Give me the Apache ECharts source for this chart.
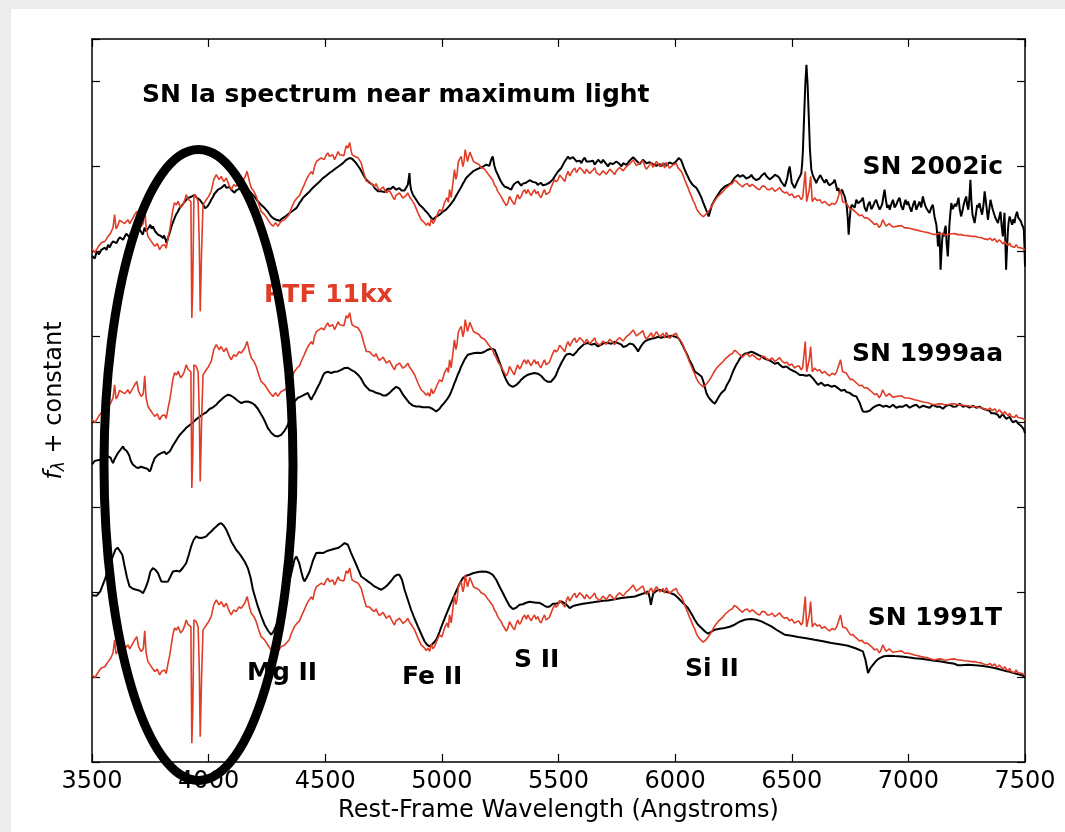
<!DOCTYPE html>
<html>
<head>
<meta charset="utf-8">
<script src="https://cdn.jsdelivr.net/npm/echarts@6/dist/echarts.min.js"></script>
<style>
  html, body { margin: 0; padding: 0; background: #ececec; }
  #panel { position: absolute; left: 11px; top: 9px; width: 1054px; height: 823px; background: #ffffff; }
  #chart { position: absolute; left: 0; top: 0; width: 1065px; height: 832px; }
</style>
</head>
<body>
<div id="panel"></div>
<div id="chart"></div>
<script>
// Normalised spectra: [rest-frame wavelength (Angstrom), f_lambda]
const ptf11kx = [[3500,1.03],[3504,1.044],[3512,0.99],[3520,1.012],[3530,1.07],[3540,1.106],[3555,1.12],[3569,1.18],[3580,1.22],[3590,1.281],[3597,1.435],[3603,1.27],[3610,1.298],[3618,1.37],[3626,1.356],[3640,1.33],[3654,1.376],[3662,1.33],[3670,1.353],[3683,1.435],[3692,1.474],[3700,1.353],[3711,1.298],[3720,1.33],[3726,1.541],[3732,1.282],[3740,1.18],[3748,1.2],[3755,1.118],[3762,1.09],[3769,1.063],[3780,1.094],[3790,1.024],[3800,1.071],[3811,1.082],[3818,1.04],[3826,1.161],[3833,1.25],[3840,1.376],[3847,1.5],[3854,1.576],[3862,1.55],[3869,1.592],[3880,1.517],[3890,1.553],[3897,1.6],[3904,1.67],[3911,1.62],[3918,1.611],[3924,1.588],[3928,0.221],[3932,0.6],[3937,1.67],[3947,1.65],[3955,1.588],[3960,1.1],[3964,0.298],[3970,1.024],[3976,1.553],[3983,1.58],[3990,1.611],[4000,1.65],[4011,1.709],[4022,1.847],[4033,1.906],[4045,1.847],[4054,1.885],[4065,1.823],[4076,1.867],[4088,1.776],[4097,1.729],[4108,1.788],[4118,1.768],[4130,1.823],[4140,1.808],[4155,1.87],[4165,1.944],[4175,1.823],[4183,1.749],[4195,1.706],[4204,1.65],[4215,1.553],[4225,1.474],[4240,1.435],[4254,1.376],[4265,1.329],[4276,1.298],[4287,1.341],[4297,1.298],[4310,1.353],[4326,1.376],[4345,1.435],[4356,1.52],[4368,1.592],[4380,1.635],[4390,1.66],[4397,1.709],[4410,1.788],[4418,1.84],[4426,1.885],[4440,1.941],[4447,1.91],[4454,2.003],[4462,2.06],[4470,2.047],[4483,2.102],[4495,2.082],[4503,2.13],[4511,2.161],[4518,2.12],[4525,2.105],[4532,2.14],[4540,2.082],[4548,2.13],[4555,2.176],[4562,2.14],[4568,2.161],[4580,2.129],[4590,2.246],[4597,2.219],[4605,2.282],[4610,2.2],[4615,2.141],[4626,2.121],[4640,2.105],[4654,2.043],[4665,1.929],[4676,1.827],[4683,1.85],[4690,1.823],[4700,1.79],[4711,1.768],[4718,1.8],[4725,1.753],[4732,1.72],[4740,1.709],[4748,1.76],[4755,1.753],[4762,1.69],[4768,1.67],[4775,1.72],[4782,1.706],[4790,1.64],[4797,1.611],[4803,1.66],[4810,1.647],[4818,1.69],[4826,1.67],[4833,1.63],[4840,1.611],[4847,1.66],[4854,1.69],[4862,1.64],[4870,1.611],[4883,1.553],[4897,1.459],[4911,1.376],[4918,1.36],[4925,1.341],[4933,1.31],[4940,1.338],[4948,1.3],[4955,1.388],[4962,1.33],[4968,1.356],[4980,1.435],[4990,1.494],[5000,1.471],[5011,1.573],[5022,1.635],[5028,1.58],[5033,1.729],[5040,1.635],[5047,1.8],[5054,1.964],[5060,1.85],[5065,1.906],[5070,2.05],[5075,2.082],[5083,2.121],[5090,2.0],[5095,2.058],[5100,2.2],[5104,2.179],[5110,2.06],[5115,2.082],[5120,2.17],[5126,2.161],[5136,2.058],[5147,2.043],[5155,2.06],[5160,2.023],[5168,1.99],[5176,2.003],[5183,1.97],[5190,1.964],[5200,1.906],[5211,1.867],[5218,1.84],[5225,1.788],[5232,1.76],[5240,1.706],[5247,1.69],[5254,1.65],[5261,1.61],[5268,1.588],[5276,1.54],[5283,1.573],[5290,1.65],[5297,1.635],[5304,1.58],[5311,1.553],[5318,1.62],[5325,1.67],[5333,1.62],[5340,1.65],[5347,1.7],[5355,1.729],[5362,1.68],[5369,1.729],[5376,1.69],[5383,1.659],[5390,1.7],[5397,1.729],[5404,1.68],[5411,1.709],[5418,1.66],[5425,1.635],[5433,1.69],[5440,1.729],[5447,1.67],[5454,1.65],[5461,1.7],[5468,1.753],[5475,1.8],[5483,1.846],[5490,1.82],[5498,1.846],[5505,1.9],[5512,1.885],[5520,1.85],[5527,1.823],[5534,1.9],[5541,1.944],[5548,1.89],[5555,1.906],[5562,1.96],[5570,1.984],[5577,1.93],[5584,1.941],[5591,1.99],[5598,2.011],[5605,1.95],[5612,1.917],[5620,1.97],[5627,1.964],[5634,1.92],[5641,1.906],[5648,1.96],[5655,1.988],[5662,1.93],[5670,1.944],[5677,1.9],[5684,1.894],[5691,1.95],[5698,1.964],[5705,1.91],[5712,1.925],[5720,1.97],[5727,1.988],[5734,1.93],[5741,1.906],[5748,1.95],[5755,1.944],[5762,1.99],[5770,2.011],[5777,1.95],[5784,1.964],[5791,2.0],[5798,1.984],[5805,2.03],[5812,2.035],[5820,2.08],[5827,2.062],[5834,2.01],[5841,1.988],[5848,2.04],[5855,2.023],[5862,2.07],[5870,2.003],[5877,1.97],[5884,1.964],[5891,2.02],[5898,2.047],[5905,1.99],[5912,2.003],[5920,2.06],[5927,2.058],[5934,2.0],[5941,1.988],[5948,2.04],[5955,1.984],[5962,2.05],[5969,2.035],[5976,1.98],[5984,1.964],[5991,2.02],[5998,2.003],[6005,2.04],[6012,1.988],[6020,1.97],[6027,1.941],[6034,1.9],[6041,1.846],[6048,1.8],[6055,1.753],[6062,1.7],[6070,1.65],[6077,1.6],[6084,1.565],[6091,1.51],[6098,1.474],[6105,1.45],[6113,1.435],[6120,1.41],[6127,1.415],[6133,1.44],[6140,1.447],[6148,1.494],[6156,1.53],[6165,1.576],[6175,1.62],[6184,1.65],[6195,1.68],[6205,1.706],[6215,1.74],[6227,1.768],[6236,1.79],[6245,1.8],[6254,1.84],[6263,1.827],[6272,1.8],[6280,1.8],[6289,1.76],[6298,1.788],[6309,1.8],[6320,1.764],[6330,1.79],[6341,1.768],[6352,1.74],[6362,1.729],[6373,1.77],[6384,1.768],[6395,1.73],[6405,1.729],[6416,1.75],[6427,1.709],[6438,1.73],[6448,1.753],[6459,1.71],[6470,1.69],[6480,1.7],[6490,1.659],[6500,1.68],[6512,1.632],[6521,1.65],[6530,1.659],[6541,1.611],[6547,1.64],[6552,1.635],[6558,1.944],[6564,1.588],[6569,1.573],[6575,1.729],[6581,1.885],[6588,1.588],[6598,1.632],[6609,1.6],[6620,1.611],[6630,1.57],[6641,1.592],[6652,1.56],[6662,1.541],[6673,1.57],[6684,1.553],[6693,1.59],[6700,1.588],[6709,1.729],[6718,1.588],[6726,1.6],[6734,1.573],[6743,1.53],[6752,1.494],[6761,1.5],[6770,1.474],[6780,1.45],[6790,1.423],[6801,1.43],[6812,1.396],[6822,1.4],[6833,1.376],[6844,1.35],[6855,1.318],[6865,1.33],[6875,1.282],[6882,1.31],[6890,1.376],[6898,1.396],[6904,1.3],[6910,1.294],[6918,1.33],[6925,1.318],[6933,1.29],[6941,1.279],[6955,1.3],[6970,1.306],[6984,1.28],[6998,1.279],[7013,1.27],[7027,1.259],[7041,1.25],[7055,1.239],[7070,1.23],[7084,1.224],[7098,1.21],[7112,1.2],[7126,1.21],[7140,1.212],[7155,1.2],[7169,1.2],[7184,1.21],[7198,1.212],[7212,1.2],[7226,1.2],[7240,1.19],[7255,1.188],[7270,1.18],[7284,1.18],[7298,1.17],[7312,1.165],[7326,1.15],[7341,1.141],[7350,1.16],[7360,1.13],[7370,1.153],[7380,1.11],[7390,1.14],[7398,1.121],[7406,1.09],[7413,1.12],[7420,1.094],[7428,1.07],[7434,1.1],[7441,1.063],[7448,1.08],[7455,1.05],[7462,1.082],[7470,1.05],[7477,1.06],[7484,1.044],[7492,1.03],[7500,1.024]];

const sn2002ic = [[3500,0.95],[3504,0.964],[3512,0.92],[3520,0.999],[3530,0.97],[3540,1.022],[3548,1.0],[3555,1.046],[3562,1.02],[3569,1.081],[3576,1.05],[3583,1.093],[3590,1.12],[3597,1.14],[3605,1.1],[3612,1.14],[3619,1.17],[3626,1.179],[3633,1.14],[3640,1.163],[3647,1.21],[3654,1.199],[3661,1.17],[3668,1.234],[3676,1.21],[3683,1.257],[3690,1.23],[3697,1.222],[3704,1.26],[3711,1.237],[3718,1.2],[3725,1.281],[3732,1.24],[3740,1.257],[3745,1.29],[3750,1.316],[3756,1.27],[3761,1.296],[3767,1.26],[3772,1.234],[3778,1.25],[3783,1.199],[3788,1.22],[3794,1.187],[3799,1.21],[3804,1.16],[3808,1.19],[3812,1.187],[3816,1.14],[3819,1.101],[3823,1.13],[3826,1.163],[3833,1.219],[3843,1.316],[3854,1.395],[3861,1.44],[3868,1.469],[3875,1.51],[3883,1.531],[3890,1.56],[3897,1.587],[3904,1.61],[3911,1.63],[3918,1.62],[3925,1.645],[3932,1.66],[3940,1.669],[3947,1.64],[3955,1.634],[3962,1.61],[3969,1.59],[3975,1.56],[3980,1.54],[3985,1.51],[3990,1.493],[3995,1.53],[4000,1.551],[4006,1.58],[4011,1.61],[4018,1.64],[4025,1.681],[4032,1.7],[4040,1.728],[4047,1.71],[4055,1.751],[4062,1.77],[4069,1.786],[4076,1.75],[4083,1.74],[4090,1.76],[4097,1.728],[4104,1.71],[4111,1.692],[4118,1.72],[4126,1.708],[4133,1.74],[4140,1.763],[4147,1.73],[4154,1.748],[4161,1.76],[4168,1.728],[4176,1.71],[4183,1.689],[4190,1.67],[4197,1.645],[4204,1.62],[4211,1.59],[4218,1.57],[4225,1.551],[4232,1.53],[4240,1.512],[4247,1.49],[4254,1.469],[4261,1.44],[4268,1.414],[4275,1.4],[4280,1.387],[4290,1.375],[4297,1.36],[4304,1.363],[4311,1.38],[4318,1.395],[4325,1.4],[4333,1.422],[4340,1.44],[4347,1.454],[4354,1.47],[4361,1.481],[4368,1.5],[4376,1.512],[4383,1.54],[4390,1.575],[4397,1.6],[4404,1.63],[4411,1.65],[4418,1.669],[4425,1.69],[4433,1.708],[4440,1.73],[4447,1.751],[4454,1.76],[4461,1.786],[4468,1.8],[4475,1.822],[4482,1.84],[4490,1.865],[4497,1.87],[4504,1.892],[4511,1.9],[4518,1.924],[4525,1.93],[4532,1.951],[4540,1.96],[4547,1.983],[4554,1.99],[4561,2.01],[4568,2.02],[4576,2.041],[4583,2.06],[4590,2.08],[4597,2.09],[4604,2.1],[4610,2.11],[4615,2.092],[4620,2.08],[4626,2.06],[4632,2.04],[4637,2.022],[4642,2.0],[4647,1.983],[4654,1.95],[4661,1.916],[4668,1.88],[4676,1.845],[4683,1.83],[4690,1.81],[4697,1.8],[4704,1.786],[4711,1.75],[4718,1.728],[4726,1.71],[4733,1.689],[4740,1.71],[4747,1.728],[4754,1.7],[4761,1.708],[4768,1.74],[4776,1.751],[4783,1.74],[4790,1.766],[4797,1.75],[4804,1.728],[4811,1.74],[4818,1.748],[4826,1.72],[4833,1.704],[4840,1.72],[4847,1.708],[4854,1.786],[4858,1.86],[4861,1.924],[4864,1.8],[4868,1.728],[4876,1.669],[4883,1.64],[4890,1.61],[4897,1.58],[4904,1.551],[4911,1.53],[4918,1.516],[4926,1.49],[4933,1.473],[4940,1.45],[4947,1.422],[4954,1.4],[4961,1.375],[4968,1.39],[4975,1.41],[4983,1.42],[4990,1.434],[4997,1.45],[5004,1.469],[5011,1.48],[5018,1.493],[5026,1.51],[5033,1.54],[5040,1.56],[5047,1.59],[5054,1.62],[5061,1.657],[5068,1.69],[5076,1.728],[5083,1.76],[5090,1.798],[5097,1.83],[5104,1.865],[5111,1.88],[5118,1.904],[5126,1.92],[5133,1.943],[5140,1.95],[5147,1.963],[5154,1.97],[5161,1.983],[5168,1.99],[5176,1.998],[5183,2.01],[5190,2.022],[5197,2.0],[5204,2.01],[5211,2.08],[5218,2.119],[5225,2.01],[5232,1.95],[5240,1.904],[5247,1.86],[5254,1.822],[5261,1.79],[5268,1.766],[5276,1.76],[5283,1.751],[5290,1.74],[5297,1.728],[5304,1.77],[5311,1.798],[5318,1.8],[5326,1.825],[5333,1.8],[5340,1.775],[5347,1.8],[5354,1.786],[5361,1.81],[5369,1.822],[5376,1.84],[5383,1.845],[5390,1.82],[5397,1.798],[5404,1.81],[5411,1.786],[5418,1.8],[5425,1.81],[5433,1.78],[5440,1.766],[5447,1.79],[5454,1.798],[5461,1.81],[5468,1.825],[5476,1.85],[5483,1.88],[5490,1.91],[5497,1.939],[5505,1.96],[5512,1.983],[5519,2.02],[5526,2.057],[5534,2.09],[5541,2.119],[5548,2.09],[5555,2.08],[5562,2.11],[5570,2.1],[5577,2.06],[5584,2.045],[5591,2.07],[5598,2.041],[5605,2.08],[5612,2.104],[5620,2.06],[5627,2.08],[5634,2.06],[5641,2.045],[5648,2.07],[5655,2.022],[5662,2.05],[5670,2.08],[5677,2.06],[5684,2.041],[5691,2.08],[5698,2.069],[5705,2.03],[5712,2.002],[5720,2.04],[5727,2.057],[5734,2.03],[5741,2.022],[5748,2.06],[5755,2.069],[5762,2.03],[5770,2.002],[5777,2.04],[5784,2.045],[5791,2.02],[5798,2.041],[5805,2.07],[5812,2.08],[5820,2.11],[5827,2.1],[5834,2.07],[5841,2.057],[5848,2.03],[5855,2.041],[5862,2.08],[5870,2.069],[5877,2.04],[5884,2.022],[5891,2.05],[5898,2.057],[5905,2.03],[5912,2.041],[5920,2.01],[5927,1.998],[5934,2.03],[5941,2.002],[5948,2.04],[5955,2.045],[5962,2.01],[5969,2.022],[5976,2.05],[5984,2.057],[5991,2.03],[5998,2.041],[6004,2.06],[6010,2.08],[6015,2.1],[6020,2.119],[6025,2.08],[6030,2.045],[6036,2.0],[6041,1.963],[6048,1.92],[6055,1.88],[6062,1.84],[6070,1.806],[6077,1.78],[6084,1.763],[6091,1.75],[6098,1.728],[6105,1.68],[6113,1.634],[6120,1.58],[6127,1.531],[6136,1.469],[6144,1.414],[6152,1.493],[6158,1.55],[6163,1.571],[6168,1.6],[6173,1.622],[6179,1.65],[6184,1.669],[6191,1.7],[6198,1.728],[6205,1.75],[6213,1.766],[6220,1.78],[6227,1.786],[6234,1.8],[6241,1.806],[6248,1.84],[6255,1.869],[6262,1.89],[6270,1.904],[6277,1.88],[6284,1.869],[6291,1.9],[6298,1.884],[6305,1.86],[6312,1.845],[6320,1.88],[6327,1.904],[6334,1.87],[6341,1.857],[6348,1.84],[6355,1.825],[6362,1.86],[6370,1.892],[6377,1.91],[6384,1.924],[6391,1.89],[6398,1.869],[6405,1.85],[6413,1.845],[6420,1.88],[6427,1.904],[6434,1.89],[6441,1.884],[6448,1.86],[6455,1.822],[6462,1.8],[6470,1.766],[6476,1.82],[6481,1.869],[6486,1.95],[6491,2.002],[6496,1.9],[6500,1.81],[6506,1.78],[6512,1.748],[6520,1.8],[6527,1.845],[6534,1.88],[6541,1.924],[6545,2.05],[6548,2.198],[6553,2.589],[6558,2.962],[6563,3.197],[6568,2.962],[6573,2.589],[6578,2.198],[6584,1.963],[6590,1.9],[6595,1.869],[6600,1.84],[6605,1.806],[6610,1.84],[6616,1.869],[6622,1.9],[6627,1.884],[6634,1.84],[6641,1.81],[6648,1.85],[6655,1.806],[6662,1.78],[6670,1.775],[6677,1.81],[6684,1.845],[6690,1.78],[6695,1.716],[6700,1.75],[6705,1.689],[6710,1.71],[6716,1.728],[6722,1.68],[6727,1.649],[6731,1.6],[6735,1.551],[6740,1.4],[6744,1.199],[6748,1.36],[6752,1.493],[6757,1.55],[6763,1.571],[6770,1.52],[6777,1.61],[6784,1.57],[6791,1.551],[6798,1.6],[6805,1.634],[6812,1.52],[6820,1.473],[6827,1.55],[6834,1.587],[6841,1.5],[6848,1.531],[6855,1.58],[6862,1.61],[6870,1.54],[6877,1.493],[6883,1.53],[6888,1.563],[6893,1.65],[6898,1.728],[6904,1.6],[6909,1.516],[6915,1.55],[6920,1.493],[6927,1.56],[6934,1.61],[6941,1.52],[6948,1.551],[6955,1.6],[6962,1.634],[6970,1.53],[6977,1.493],[6983,1.57],[6988,1.61],[6993,1.55],[6998,1.59],[7005,1.53],[7013,1.469],[7020,1.55],[7027,1.6],[7034,1.493],[7041,1.54],[7048,1.587],[7055,1.52],[7062,1.649],[7069,1.57],[7076,1.516],[7084,1.48],[7091,1.454],[7098,1.52],[7105,1.551],[7112,1.414],[7120,1.316],[7124,1.2],[7127,1.061],[7130,1.15],[7133,1.234],[7136,1.0],[7138,0.787],[7141,0.95],[7145,1.14],[7148,1.22],[7152,1.179],[7156,1.26],[7160,1.304],[7164,1.1],[7169,0.944],[7172,1.1],[7176,1.316],[7180,1.45],[7184,1.571],[7190,1.5],[7195,1.493],[7200,1.56],[7205,1.532],[7210,1.58],[7215,1.634],[7220,1.5],[7226,1.414],[7232,1.48],[7237,1.551],[7242,1.6],[7248,1.649],[7252,1.55],[7257,1.493],[7262,1.65],[7266,1.845],[7270,1.6],[7275,1.434],[7280,1.38],[7284,1.336],[7290,1.45],[7295,1.551],[7300,1.52],[7305,1.571],[7310,1.5],[7316,1.434],[7322,1.55],[7327,1.708],[7331,1.62],[7334,1.551],[7338,1.45],[7341,1.375],[7346,1.48],[7352,1.61],[7357,1.55],[7362,1.493],[7368,1.44],[7373,1.398],[7378,1.37],[7384,1.336],[7390,1.41],[7395,1.469],[7400,1.3],[7405,1.179],[7409,1.33],[7412,1.457],[7416,1.1],[7419,0.787],[7423,1.05],[7427,1.257],[7430,1.35],[7434,1.414],[7440,1.36],[7445,1.316],[7450,1.38],[7455,1.336],[7460,1.42],[7466,1.469],[7471,1.4],[7477,1.414],[7482,1.36],[7487,1.316],[7492,1.29],[7495,1.257],[7498,1.05],[7500,0.826]];

const sn1999aa = [[3500,0.5],[3504,0.515],[3512,0.54],[3520,0.53],[3530,0.55],[3540,0.553],[3548,0.54],[3555,0.577],[3562,0.56],[3569,0.592],[3575,0.6],[3580,0.577],[3585,0.54],[3590,0.515],[3595,0.55],[3600,0.577],[3606,0.6],[3611,0.632],[3617,0.64],[3622,0.671],[3628,0.69],[3633,0.71],[3638,0.68],[3643,0.671],[3648,0.66],[3654,0.632],[3660,0.6],[3665,0.553],[3670,0.52],[3676,0.495],[3681,0.48],[3687,0.471],[3692,0.46],[3697,0.456],[3704,0.47],[3711,0.471],[3718,0.46],[3726,0.456],[3732,0.45],[3737,0.448],[3742,0.43],[3747,0.416],[3752,0.44],[3758,0.495],[3763,0.53],[3769,0.573],[3776,0.59],[3783,0.612],[3790,0.6],[3797,0.632],[3804,0.65],[3811,0.648],[3818,0.62],[3826,0.612],[3833,0.65],[3840,0.683],[3847,0.72],[3854,0.75],[3861,0.77],[3868,0.812],[3875,0.84],[3883,0.867],[3890,0.89],[3897,0.906],[3904,0.93],[3911,0.945],[3918,0.96],[3925,0.977],[3932,0.99],[3940,1.004],[3947,1.03],[3955,1.047],[3962,1.06],[3969,1.082],[3976,1.09],[3983,1.106],[3990,1.11],[3997,1.121],[4004,1.15],[4012,1.165],[4019,1.17],[4026,1.18],[4033,1.2],[4040,1.224],[4047,1.24],[4054,1.259],[4061,1.28],[4068,1.294],[4076,1.31],[4083,1.318],[4090,1.32],[4097,1.306],[4104,1.29],[4111,1.279],[4118,1.26],[4125,1.247],[4133,1.23],[4140,1.22],[4147,1.24],[4154,1.235],[4161,1.25],[4168,1.239],[4175,1.23],[4183,1.224],[4190,1.21],[4197,1.2],[4204,1.18],[4211,1.153],[4218,1.12],[4226,1.082],[4233,1.05],[4240,1.012],[4247,0.97],[4254,0.926],[4261,0.9],[4268,0.871],[4275,0.85],[4283,0.836],[4290,0.83],[4297,0.827],[4304,0.84],[4311,0.847],[4318,0.87],[4325,0.894],[4333,0.93],[4340,0.965],[4347,1.03],[4354,1.106],[4361,1.17],[4368,1.239],[4376,1.26],[4383,1.282],[4390,1.29],[4397,1.298],[4404,1.31],[4411,1.318],[4418,1.33],[4426,1.338],[4433,1.29],[4440,1.259],[4447,1.3],[4454,1.329],[4461,1.37],[4469,1.415],[4476,1.45],[4483,1.494],[4490,1.54],[4497,1.573],[4504,1.58],[4511,1.588],[4518,1.58],[4526,1.573],[4533,1.58],[4540,1.588],[4547,1.6],[4554,1.592],[4561,1.6],[4568,1.611],[4576,1.62],[4583,1.632],[4590,1.64],[4597,1.635],[4604,1.62],[4611,1.611],[4618,1.6],[4626,1.588],[4633,1.57],[4640,1.553],[4647,1.53],[4654,1.506],[4661,1.47],[4668,1.435],[4676,1.41],[4683,1.388],[4690,1.37],[4697,1.356],[4704,1.36],[4711,1.353],[4718,1.34],[4726,1.338],[4733,1.33],[4740,1.318],[4747,1.31],[4754,1.298],[4761,1.31],[4768,1.329],[4776,1.34],[4783,1.356],[4790,1.38],[4797,1.4],[4804,1.41],[4811,1.415],[4818,1.39],[4826,1.353],[4833,1.32],[4840,1.298],[4847,1.27],[4854,1.247],[4861,1.22],[4868,1.2],[4876,1.19],[4883,1.188],[4890,1.18],[4897,1.18],[4904,1.18],[4911,1.177],[4918,1.17],[4926,1.161],[4933,1.17],[4940,1.177],[4947,1.17],[4954,1.161],[4961,1.15],[4968,1.141],[4976,1.121],[4983,1.14],[4990,1.153],[4997,1.18],[5004,1.2],[5011,1.224],[5018,1.25],[5026,1.279],[5033,1.31],[5040,1.353],[5047,1.4],[5054,1.455],[5061,1.5],[5068,1.553],[5076,1.6],[5083,1.65],[5090,1.69],[5097,1.729],[5104,1.76],[5111,1.788],[5118,1.79],[5126,1.8],[5133,1.81],[5140,1.808],[5147,1.8],[5154,1.811],[5161,1.82],[5168,1.808],[5176,1.81],[5183,1.823],[5190,1.83],[5197,1.847],[5204,1.85],[5211,1.858],[5218,1.85],[5226,1.847],[5233,1.8],[5240,1.753],[5247,1.7],[5254,1.65],[5261,1.59],[5268,1.541],[5276,1.49],[5283,1.455],[5290,1.43],[5297,1.423],[5304,1.41],[5311,1.408],[5318,1.43],[5325,1.447],[5333,1.47],[5340,1.494],[5347,1.51],[5354,1.529],[5361,1.54],[5369,1.553],[5376,1.56],[5383,1.565],[5390,1.57],[5397,1.573],[5404,1.57],[5411,1.565],[5418,1.55],[5425,1.541],[5433,1.52],[5440,1.494],[5447,1.48],[5454,1.47],[5461,1.455],[5468,1.47],[5475,1.494],[5483,1.52],[5490,1.553],[5498,1.611],[5505,1.65],[5512,1.69],[5520,1.73],[5527,1.764],[5534,1.79],[5541,1.808],[5548,1.8],[5555,1.8],[5562,1.78],[5570,1.768],[5577,1.82],[5584,1.847],[5591,1.87],[5598,1.885],[5605,1.9],[5612,1.917],[5620,1.92],[5627,1.925],[5634,1.91],[5641,1.906],[5648,1.92],[5655,1.917],[5662,1.9],[5670,1.885],[5677,1.9],[5684,1.906],[5691,1.92],[5698,1.929],[5705,1.93],[5712,1.925],[5720,1.92],[5727,1.917],[5734,1.93],[5741,1.941],[5748,1.93],[5755,1.925],[5762,1.91],[5770,1.906],[5777,1.88],[5784,1.867],[5791,1.89],[5798,1.906],[5805,1.92],[5812,1.925],[5820,1.91],[5827,1.894],[5834,1.86],[5841,1.827],[5848,1.86],[5855,1.894],[5862,1.92],[5870,1.944],[5877,1.95],[5884,1.964],[5891,1.97],[5898,1.976],[5905,1.98],[5912,1.984],[5920,1.99],[5927,2.0],[5934,1.99],[5941,1.988],[5948,2.0],[5955,2.003],[5962,2.0],[5969,2.0],[5976,2.01],[5984,2.011],[5991,2.0],[5998,2.003],[6005,2.0],[6012,1.988],[6020,1.96],[6027,1.925],[6034,1.89],[6041,1.847],[6048,1.81],[6055,1.768],[6062,1.72],[6070,1.682],[6077,1.64],[6084,1.592],[6091,1.58],[6098,1.565],[6105,1.55],[6113,1.533],[6119,1.49],[6125,1.435],[6130,1.38],[6134,1.338],[6141,1.3],[6148,1.271],[6154,1.25],[6160,1.235],[6165,1.22],[6170,1.212],[6175,1.23],[6180,1.259],[6185,1.28],[6190,1.306],[6194,1.32],[6198,1.338],[6205,1.35],[6213,1.376],[6220,1.423],[6227,1.435],[6234,1.49],[6241,1.541],[6248,1.59],[6255,1.632],[6262,1.67],[6270,1.706],[6277,1.74],[6284,1.768],[6291,1.79],[6298,1.8],[6305,1.8],[6312,1.808],[6320,1.82],[6327,1.823],[6334,1.81],[6341,1.808],[6348,1.8],[6355,1.788],[6362,1.78],[6370,1.768],[6377,1.76],[6384,1.741],[6391,1.74],[6398,1.729],[6405,1.72],[6413,1.709],[6420,1.7],[6427,1.682],[6434,1.7],[6441,1.694],[6448,1.67],[6455,1.65],[6462,1.64],[6470,1.635],[6477,1.65],[6484,1.647],[6491,1.62],[6498,1.611],[6505,1.6],[6512,1.588],[6520,1.58],[6527,1.565],[6534,1.55],[6541,1.533],[6548,1.55],[6555,1.553],[6562,1.54],[6570,1.529],[6577,1.55],[6584,1.533],[6591,1.51],[6598,1.494],[6605,1.46],[6612,1.435],[6620,1.45],[6627,1.459],[6634,1.44],[6641,1.423],[6648,1.43],[6655,1.435],[6662,1.42],[6670,1.412],[6677,1.43],[6684,1.423],[6691,1.41],[6698,1.396],[6705,1.38],[6712,1.365],[6720,1.37],[6727,1.376],[6734,1.35],[6741,1.338],[6748,1.34],[6755,1.329],[6762,1.31],[6769,1.298],[6777,1.298],[6784,1.26],[6791,1.224],[6798,1.17],[6805,1.121],[6812,1.12],[6820,1.118],[6827,1.13],[6834,1.129],[6841,1.15],[6848,1.165],[6855,1.18],[6862,1.188],[6870,1.19],[6877,1.2],[6884,1.19],[6891,1.177],[6898,1.19],[6905,1.188],[6912,1.17],[6920,1.171],[6927,1.19],[6934,1.2],[6941,1.18],[6948,1.165],[6955,1.18],[6962,1.18],[6970,1.19],[6977,1.177],[6984,1.19],[6991,1.2],[6998,1.18],[7005,1.165],[7012,1.18],[7020,1.188],[7027,1.2],[7034,1.2],[7041,1.18],[7048,1.165],[7055,1.18],[7062,1.188],[7070,1.17],[7077,1.177],[7084,1.19],[7091,1.165],[7098,1.18],[7105,1.2],[7112,1.19],[7120,1.177],[7127,1.17],[7134,1.18],[7141,1.17],[7148,1.153],[7155,1.17],[7162,1.188],[7170,1.19],[7177,1.2],[7184,1.19],[7191,1.177],[7198,1.17],[7205,1.18],[7212,1.2],[7220,1.212],[7227,1.19],[7234,1.177],[7241,1.18],[7248,1.188],[7255,1.17],[7262,1.165],[7270,1.18],[7277,1.188],[7284,1.17],[7291,1.165],[7298,1.18],[7305,1.177],[7312,1.16],[7320,1.153],[7327,1.15],[7334,1.141],[7341,1.14],[7348,1.129],[7355,1.1],[7362,1.082],[7369,1.1],[7377,1.118],[7384,1.08],[7391,1.047],[7398,1.07],[7405,1.094],[7412,1.06],[7420,1.035],[7427,1.05],[7434,1.059],[7441,1.02],[7448,0.994],[7455,1.01],[7462,1.012],[7470,0.98],[7477,0.965],[7484,0.95],[7490,0.941],[7495,0.91],[7500,0.867]];

const sn1991T = [[3500,1.96],[3504,1.966],[3520,1.955],[3535,2.002],[3555,2.143],[3580,2.354],[3600,2.495],[3610,2.52],[3618,2.534],[3630,2.436],[3640,2.299],[3650,2.17],[3661,2.064],[3675,2.037],[3690,2.025],[3705,2.013],[3719,1.986],[3730,2.049],[3740,2.123],[3750,2.237],[3761,2.28],[3772,2.26],[3783,2.221],[3797,2.123],[3811,2.119],[3826,2.123],[3840,2.201],[3847,2.24],[3862,2.248],[3876,2.24],[3890,2.284],[3904,2.339],[3915,2.437],[3925,2.534],[3936,2.613],[3947,2.652],[3958,2.636],[3969,2.633],[3980,2.642],[3990,2.652],[4000,2.683],[4011,2.71],[4022,2.742],[4033,2.769],[4043,2.795],[4054,2.809],[4065,2.777],[4076,2.73],[4087,2.66],[4097,2.593],[4108,2.542],[4118,2.495],[4129,2.46],[4140,2.417],[4155,2.354],[4168,2.28],[4180,2.166],[4190,2.025],[4200,1.931],[4211,1.829],[4225,1.719],[4240,1.614],[4255,1.543],[4268,1.496],[4280,1.543],[4297,1.652],[4311,1.778],[4326,1.908],[4340,2.06],[4355,2.225],[4368,2.378],[4376,2.417],[4388,2.342],[4397,2.24],[4404,2.166],[4411,2.123],[4420,2.166],[4433,2.24],[4447,2.366],[4461,2.456],[4475,2.46],[4490,2.456],[4497,2.46],[4511,2.484],[4526,2.495],[4540,2.507],[4554,2.515],[4569,2.542],[4583,2.574],[4597,2.554],[4611,2.456],[4622,2.389],[4633,2.319],[4644,2.248],[4654,2.181],[4668,2.154],[4683,2.123],[4697,2.096],[4711,2.064],[4726,2.043],[4740,2.025],[4754,2.049],[4768,2.084],[4783,2.131],[4797,2.182],[4808,2.201],[4818,2.201],[4829,2.143],[4840,2.025],[4854,1.908],[4868,1.79],[4883,1.684],[4897,1.594],[4911,1.508],[4926,1.417],[4936,1.379],[4947,1.359],[4961,1.39],[4976,1.437],[4990,1.531],[5004,1.634],[5018,1.731],[5033,1.829],[5047,1.919],[5061,2.005],[5076,2.096],[5090,2.163],[5104,2.19],[5118,2.201],[5133,2.219],[5147,2.229],[5161,2.237],[5176,2.24],[5190,2.237],[5204,2.225],[5218,2.201],[5233,2.143],[5247,2.064],[5261,1.99],[5276,1.908],[5290,1.837],[5304,1.798],[5318,1.813],[5333,1.849],[5347,1.855],[5361,1.872],[5376,1.884],[5390,1.878],[5404,1.872],[5418,1.872],[5433,1.849],[5447,1.825],[5461,1.825],[5476,1.86],[5490,1.86],[5512,1.888],[5530,1.86],[5548,1.81],[5566,1.837],[5584,1.849],[5605,1.86],[5627,1.869],[5648,1.878],[5670,1.888],[5691,1.896],[5712,1.899],[5741,1.913],[5770,1.927],[5798,1.937],[5827,1.946],[5848,1.966],[5870,1.986],[5884,2.005],[5891,1.931],[5896,1.849],[5902,1.931],[5907,1.986],[5927,2.025],[5941,2.019],[5955,2.005],[5977,1.99],[5998,1.966],[6012,1.931],[6027,1.888],[6041,1.849],[6055,1.81],[6070,1.743],[6084,1.672],[6098,1.614],[6113,1.575],[6127,1.537],[6141,1.508],[6155,1.531],[6170,1.555],[6191,1.567],[6213,1.575],[6234,1.59],[6255,1.614],[6276,1.649],[6298,1.672],[6312,1.678],[6327,1.681],[6348,1.672],[6370,1.653],[6391,1.625],[6413,1.594],[6434,1.555],[6455,1.52],[6470,1.496],[6500,1.484],[6527,1.469],[6562,1.455],[6598,1.437],[6634,1.42],[6670,1.398],[6705,1.384],[6741,1.367],[6773,1.337],[6805,1.3],[6816,1.202],[6827,1.046],[6838,1.108],[6848,1.143],[6862,1.19],[6877,1.222],[6895,1.243],[6913,1.249],[6941,1.245],[6970,1.241],[6998,1.231],[7027,1.221],[7055,1.214],[7084,1.202],[7112,1.19],[7141,1.182],[7169,1.167],[7198,1.155],[7210,1.138],[7226,1.138],[7255,1.143],[7284,1.138],[7312,1.132],[7341,1.12],[7369,1.104],[7398,1.085],[7427,1.065],[7455,1.043],[7480,1.026],[7500,1.006]];

// Vertical offsets (the "+ constant") for each comparison pair
const offset2002ic = 4;
const offset1999aa = 2;
const offset1991T = -1;

const BLACK = '#000000';
const RED = '#e03c26';
const FONT = '"DejaVu Sans", "Liberation Sans", sans-serif';

function shifted(spec, c) {
  return spec.map(function (p) { return [p[0], p[1] + c]; });
}

function lineSeries(name, data, color, width) {
  return {
    name: name, type: 'line', data: data, showSymbol: false, symbol: 'none',
    smooth: false, clip: true, silent: true,
    lineStyle: { color: color, width: width },
    xAxisIndex: 0, yAxisIndex: 0
  };
}

const chart = echarts.init(document.getElementById('chart'), null, { renderer: 'canvas' });

const tickStyle = { inside: true, length: 8, lineStyle: { color: '#000', width: 1.2 } };
const lineStyleAxis = { show: true, onZero: false, lineStyle: { color: '#000', width: 1.5 } };

const option = {
  backgroundColor: 'transparent',
  animation: false,
  grid: { left: 92, top: 39, right: 40, bottom: 70, containLabel: false },
  xAxis: [
    {
      type: 'value', min: 3500, max: 7500, interval: 500, position: 'bottom',
      axisLine: lineStyleAxis, axisTick: tickStyle, splitLine: { show: false },
      axisLabel: {
        fontSize: 24, fontFamily: FONT, color: '#000', margin: 8,
        formatter: function (v) { return String(v); }
      },
      name: 'Rest-Frame Wavelength (Angstroms)', nameLocation: 'middle', nameGap: 34,
      nameTextStyle: { fontSize: 24, fontFamily: FONT, color: '#000' }
    },
    {
      type: 'value', min: 3500, max: 7500, interval: 500, position: 'top',
      axisLine: lineStyleAxis, axisTick: tickStyle, splitLine: { show: false },
      axisLabel: { show: false }
    }
  ],
  yAxis: [
    {
      type: 'value', min: -1, max: 7.5, interval: 1, position: 'left',
      axisLine: lineStyleAxis, axisTick: tickStyle, splitLine: { show: false },
      axisLabel: { show: false },
      name: '{f|f}{s|λ}{t| + constant}', nameLocation: 'middle', nameGap: 24, nameRotate: 90,
      nameTextStyle: {
        color: '#000', fontFamily: FONT, fontSize: 24,
        rich: {
          f: { fontSize: 24, fontStyle: 'italic', fontFamily: FONT, color: '#000' },
          s: { fontSize: 17, fontStyle: 'italic', fontFamily: FONT, color: '#000', padding: [10, 0, 0, 0] },
          t: { fontSize: 24, fontFamily: FONT, color: '#000' }
        }
      }
    },
    {
      type: 'value', min: -1, max: 7.5, interval: 1, position: 'right',
      axisLine: lineStyleAxis, axisTick: tickStyle, splitLine: { show: false },
      axisLabel: { show: false }
    }
  ],
  series: [
    lineSeries('SN 2002ic', shifted(sn2002ic, offset2002ic), BLACK, 2),
    lineSeries('SN 1999aa', shifted(sn1999aa, offset1999aa), BLACK, 2),
    lineSeries('SN 1991T', shifted(sn1991T, offset1991T), BLACK, 2),
    lineSeries('PTF 11kx', shifted(ptf11kx, offset2002ic), RED, 1.6),
    lineSeries('PTF 11kx', shifted(ptf11kx, offset1999aa), RED, 1.6),
    lineSeries('PTF 11kx', shifted(ptf11kx, offset1991T), RED, 1.6)
  ]
};
chart.setOption(option);

// Annotations: panel title, object names, line identifications and the Ca II highlight
const boldFont = 'bold 25px ' + FONT;
function label(text, x, y, align, color) {
  return {
    type: 'text', x: x, y: y, z: 50,
    style: { text: text, font: boldFont, fill: color || '#000', align: align || 'left', verticalAlign: 'middle' }
  };
}
chart.setOption({
  graphic: [
    label('SN Ia spectrum near maximum light', 142, 95),
    label('SN 2002ic', 1003, 167, 'right'),
    label('SN 1999aa', 1003, 354, 'right'),
    label('SN 1991T', 1002, 618, 'right'),
    label('PTF 11kx', 264, 295, 'left', RED),
    label('Mg II', 247, 673),
    label('Fe II', 402, 677),
    label('S II', 514, 660),
    label('Si II', 685, 669),
    {
      type: 'ellipse', z: 100,
      shape: { cx: 198.5, cy: 465, rx: 94.5, ry: 315.5 },
      style: { fill: 'none', stroke: '#000', lineWidth: 9 }
    }
  ]
});
</script>
</body>
</html>
